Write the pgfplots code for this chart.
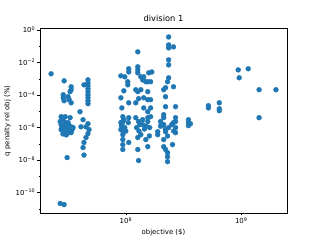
\documentclass[border=0pt]{standalone}
\usepackage{fontspec}
\setmainfont{DejaVu Sans}
\usepackage{pgfplots}
\pgfplotsset{compat=1.18}
\definecolor{tabblue}{HTML}{1F77B4}
\newcommand\logexp[1]{\pgfmathtruncatemacro\ee{round(#1)}10\textsuperscript{\ifnum\ee<0 −\number-\ee\else\ee\fi}}
\pgfplotstableread{
x y
2.25e7 2.0e-3
2.92e7 7.4e-4
3.36e7 3.2e-4
3.36e7 2.1e-4
3.29e7 1.6e-4
2.87e7 1.03e-4
2.87e7 6.7e-5
2.92e7 4.4e-5
3.16e7 7.8e-5
3.23e7 5.1e-5
3.36e7 3.3e-5
2.75e7 4.6e-6
2.98e7 4.6e-6
3.29e7 4.0e-6
2.70e7 2.3e-6
2.75e7 1.5e-6
2.81e7 1.1e-6
2.87e7 9.8e-7
2.92e7 7.4e-7
2.98e7 1.3e-6
3.04e7 1.7e-6
3.10e7 9.8e-7
3.16e7 7.4e-7
3.23e7 5.5e-7
3.29e7 8.5e-7
3.36e7 1.1e-6
3.42e7 7.4e-7
3.49e7 9.8e-7
2.87e7 5.5e-7
2.98e7 4.8e-7
3.10e7 4.2e-7
2.75e7 7.4e-7
2.92e7 2.3e-6
3.16e7 2.0e-6
3.36e7 4.8e-7
2.81e7 3.0e-6
3.04e7 6.3e-7
2.80e7 1.2e-6
3.00e7 8.0e-7
3.20e7 1.4e-6
2.90e7 1.9e-6
3.30e7 6.0e-7
2.85e7 4.0e-7
3.05e7 3.5e-7
3.10e7 1.4e-8
2.70e7 2.1e-11
2.92e7 1.8e-11
4.34e7 4.2e-4
4.70e7 8.5e-4
4.70e7 5.6e-4
4.70e7 3.7e-4
4.70e7 2.4e-4
4.70e7 1.6e-4
4.70e7 1.03e-4
4.70e7 6.7e-5
4.70e7 4.4e-5
4.70e7 2.9e-5
4.01e7 9.3e-6
4.26e7 3.0e-6
4.09e7 1.1e-6
4.52e7 1.1e-6
4.70e7 1.7e-6
4.80e7 7.4e-7
4.70e7 4.2e-7
4.52e7 2.4e-7
4.34e7 1.2e-7
4.26e7 5.8e-8
4.34e7 2.0e-8
9.06e7 1.5e-3
9.80e7 1.31e-3
1.06e8 4.1e-3
1.06e8 2.6e-3
1.04e8 6.5e-4
1.04e8 4.2e-4
9.61e7 1.8e-4
9.06e7 6.7e-5
1.06e8 3.3e-5
9.24e7 1.6e-5
9.42e7 4.6e-6
9.61e7 3.0e-6
1.06e8 4.0e-6
9.42e7 2.3e-6
9.24e7 1.5e-6
9.06e7 2.0e-6
9.42e7 3.6e-7
9.42e7 1.8e-7
9.42e7 8.8e-8
1.06e8 1.2e-7
9.42e7 4.4e-8
9.80e7 9.8e-7
9.06e7 7.4e-7
9.20e7 1.2e-6
9.50e7 5.0e-7
1.00e8 6.0e-7
1.05e8 2.0e-6
1.27e8 4.5e-2
1.27e8 5.4e-3
1.27e8 3.5e-3
1.27e8 2.3e-3
1.35e8 1.31e-3
1.40e8 8.5e-4
1.35e8 2.1e-4
1.22e8 2.1e-4
1.27e8 1.6e-4
1.29e8 5.9e-5
1.22e8 3.3e-5
1.22e8 4.0e-6
1.29e8 2.3e-6
1.27e8 2.4e-7
1.35e8 3.6e-7
1.27e8 4.4e-8
1.29e8 9.2e-9
1.24e8 9.8e-7
1.32e8 1.5e-6
1.30e8 6.0e-7
1.45e8 8.0e-7
1.50e8 1.2e-6
1.60e8 3.0e-7
1.40e8 3.0e-6
1.43e8 1.31e-3
1.58e8 2.3e-3
1.55e8 6.5e-4
1.49e8 6.5e-4
1.55e8 1.6e-4
1.43e8 6.7e-5
1.55e8 5.1e-5
1.43e8 1.6e-5
1.55e8 9.3e-6
1.55e8 4.0e-6
1.40e8 1.5e-6
1.55e8 2.3e-6
1.49e8 1.8e-7
1.55e8 6.6e-8
1.68e8 2.6e-3
1.64e8 6.5e-4
1.64e8 5.1e-5
1.64e8 1.6e-5
1.64e8 4.6e-6
1.61e8 9.8e-7
2.35e8 0.37
2.35e8 0.12
2.35e8 0.079
2.59e8 0.091
2.35e8 0.0145
2.35e8 7.1e-3
2.35e8 1.14e-3
2.30e8 6.5e-4
2.13e8 2.1e-4
2.21e8 2.8e-4
2.59e8 3.2e-4
2.21e8 7.8e-5
2.21e8 1.9e-5
2.70e8 1.9e-5
2.13e8 6.1e-6
2.13e8 4.0e-6
2.70e8 4.0e-6
2.70e8 2.3e-6
2.00e8 2.3e-6
2.13e8 1.5e-6
1.89e8 5.5e-7
1.89e8 3.6e-7
2.21e8 5.5e-7
2.59e8 2.0e-6
2.70e8 9.8e-7
2.70e8 4.8e-7
2.13e8 1.8e-7
2.13e8 6.6e-8
2.21e8 4.4e-8
2.30e8 2.8e-8
2.30e8 1.6e-8
2.54e8 8.8e-8
2.30e8 7.9e-9
2.35e8 9.8e-7
2.00e8 1.2e-6
2.20e8 8.0e-7
2.50e8 1.5e-6
2.60e8 6.0e-7
2.30e8 3.0e-7
3.49e8 3.0e-6
3.49e8 2.0e-6
3.49e8 1.3e-6
3.63e8 1.7e-6
5.2e8 2.2e-5
5.2e8 1.6e-5
6.46e8 3.3e-5
6.46e8 1.42e-5
6.46e8 1.07e-5
9.42e8 3.5e-3
1.15e9 4.1e-3
9.61e8 1.14e-3
1.43e9 2.1e-4
2.0e9 2.1e-4
1.43e9 4.0e-6
}\pts
\begin{document}
\begin{tikzpicture}
\useasboundingbox (0,0) rectangle (460.8pt,345.6pt);
\begin{axis}[
  at={(57.6pt,38pt)}, anchor=south west, scale only axis,
  width=357.1pt, height=266.1pt,
  xmode=log, ymode=log, log basis x=10, log basis y=10,
  xmin=1.8e7, xmax=2.5e9, ymin=5.5e-12, ymax=1.19,
  xtick={1e8,1e9}, ytick={1e0,1e-2,1e-4,1e-6,1e-8,1e-10},
  minor xtick={2e7,3e7,4e7,5e7,6e7,7e7,8e7,9e7,2e8,3e8,4e8,5e8,6e8,7e8,8e8,9e8,2e9},
  minor ytick={1e-1,1e-3,1e-5,1e-7,1e-9,1e-11},
  xticklabel={\logexp{\tick}}, yticklabel={\logexp{\tick}},
  tick align=outside, tick pos=left,
  major tick length=3.5pt, minor tick length=2pt,
  axis line style={black, line width=0.8pt},
  every tick/.style={black, line width=0.8pt},
  minor tick style={line width=0.6pt},
  title={division 1}, xlabel={objective (\$)}, ylabel={q penalty rel obj (\%)},
  tick label style={font=\fontsize{10}{12}\selectfont},
  label style={font=\fontsize{10}{12}\selectfont},
  title style={font=\fontsize{12}{14}\selectfont, yshift=1pt},
]
\addplot[only marks, mark=*, mark size=3.6pt, color=tabblue, mark options={draw=none, fill=tabblue}] table[x=x, y=y] {\pts};
\end{axis}
\end{tikzpicture}
\end{document}
